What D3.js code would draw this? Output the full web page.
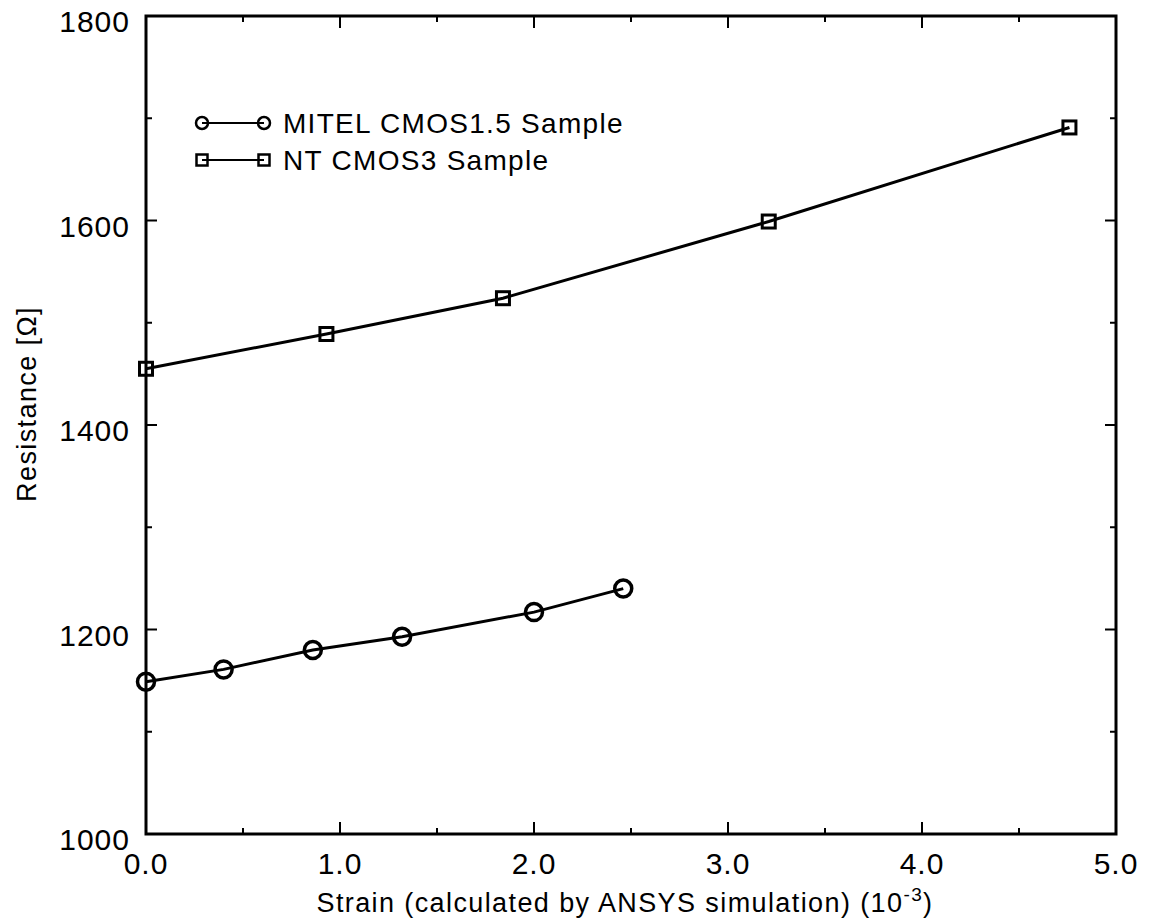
<!DOCTYPE html>
<html>
<head>
<meta charset="utf-8">
<script src="https://cdn.jsdelivr.net/npm/d3@7"></script>
<style>
  body { margin: 0; background: #fff; }
  svg text { font-family: "Liberation Sans", Arial, Helvetica, sans-serif; fill: #000; }
</style>
</head>
<body>
<svg id="chart" width="1149" height="922"></svg>
<script>
// data
const mitelStrain = [0, 0.40, 0.86, 1.32, 2.0, 2.46];
const mitelRes = [1149, 1161, 1180, 1193, 1217, 1240];
const ntStrain = [0, 0.93, 1.84, 3.21, 4.76];
const ntRes = [1455, 1489, 1524, 1599, 1691];

const xTickValues = [0, 1, 2, 3, 4, 5];
const yTickValues = [1000, 1200, 1400, 1600, 1800];
const seriesNames = ["MITEL CMOS1.5 Sample", "NT CMOS3 Sample"];

const svg = d3.select("#chart");
const width = 1149, height = 922;
let margin = { top: 16, left: 146, right: 33, bottom: 88 };
let bodyWidth = width - margin.left - margin.right;
let bodyHeight = height - margin.top - margin.bottom;

let xScale = d3.scaleLinear().domain([0, 5]).range([0, bodyWidth]);
let yScale = d3.scaleLinear().domain([1000, 1800]).range([bodyHeight, 0]);

let body = svg.append("g")
    .attr("transform", `translate(${margin.left},${margin.top})`);

// minor ticks every 0.5 / 100, major every 1.0 / 200, all pointing in
const xMinor = d3.range(0, 5.01, 0.5);
const yMinor = d3.range(1000, 1801, 100);
const isMajorX = v => Math.abs(v - Math.round(v)) < 1e-6;
const isMajorY = v => v % 200 === 0;

body.selectAll(".xtick-b").data(xMinor).enter().append("line")
    .attr("x1", d => xScale(d)).attr("x2", d => xScale(d))
    .attr("y1", bodyHeight).attr("y2", d => bodyHeight - (isMajorX(d) ? 12 : 6))
    .attr("stroke", "#000").attr("stroke-width", 2);
body.selectAll(".xtick-t").data(xMinor).enter().append("line")
    .attr("x1", d => xScale(d)).attr("x2", d => xScale(d))
    .attr("y1", 0).attr("y2", d => isMajorX(d) ? 12 : 6)
    .attr("stroke", "#000").attr("stroke-width", 2);
body.selectAll(".ytick-l").data(yMinor).enter().append("line")
    .attr("y1", d => yScale(d)).attr("y2", d => yScale(d))
    .attr("x1", 0).attr("x2", d => isMajorY(d) ? 11 : 6)
    .attr("stroke", "#000").attr("stroke-width", 2);
body.selectAll(".ytick-r").data(yMinor).enter().append("line")
    .attr("y1", d => yScale(d)).attr("y2", d => yScale(d))
    .attr("x1", bodyWidth).attr("x2", d => bodyWidth - (isMajorY(d) ? 11 : 6))
    .attr("stroke", "#000").attr("stroke-width", 2);

// frame
body.append("rect")
    .attr("width", bodyWidth).attr("height", bodyHeight)
    .attr("fill", "none").attr("stroke", "#000").attr("stroke-width", 3);

// tick labels
let fmt = d3.format(".1f");
body.selectAll(".xlab").data(xTickValues).enter().append("text")
    .attr("x", d => xScale(d)).attr("y", bodyHeight + 40)
    .attr("text-anchor", "middle")
    .style("font-size", "30px").style("letter-spacing", "1px")
    .text(d => fmt(d));
body.selectAll(".ylab").data(yTickValues).enter().append("text")
    .attr("x", -16).attr("y", d => yScale(d) + 16)
    .attr("text-anchor", "end")
    .style("font-size", "30px").style("letter-spacing", "1px")
    .text(d => d);

// axis titles
let xt = svg.append("text")
    .attr("x", 625).attr("y", 912)
    .attr("text-anchor", "middle")
    .style("font-size", "27px").style("letter-spacing", "1.4px");
xt.append("tspan").text("Strain (calculated by ANSYS simulation) (10");
xt.append("tspan").attr("dy", -11).style("font-size", "19px").text("-3");
xt.append("tspan").attr("dy", 11).text(")");

svg.append("text")
    .attr("transform", "translate(36,404) rotate(-90)")
    .attr("text-anchor", "middle")
    .style("font-size", "27px").style("letter-spacing", "1.4px")
    .text("Resistance [Ω]");

// lines
let line = d3.line().x(d => xScale(d[0])).y(d => yScale(d[1]));
const mitel = mitelStrain.map((s, i) => [s, mitelRes[i]]);
const nt = ntStrain.map((s, i) => [s, ntRes[i]]);

body.append("path").datum(mitel).attr("d", line)
    .attr("fill", "none").attr("stroke", "#000").attr("stroke-width", 3);
body.append("path").datum(nt).attr("d", line)
    .attr("fill", "none").attr("stroke", "#000").attr("stroke-width", 3);

// markers
body.selectAll(".circ").data(mitel).enter().append("circle")
    .attr("cx", d => xScale(d[0])).attr("cy", d => yScale(d[1]))
    .attr("r", 8.5).attr("fill", "none").attr("stroke", "#000").attr("stroke-width", 3.5);
const sq = 13;
body.selectAll(".sq").data(nt).enter().append("rect")
    .attr("x", d => xScale(d[0]) - sq / 2).attr("y", d => yScale(d[1]) - sq / 2)
    .attr("width", sq).attr("height", sq)
    .attr("fill", "none").attr("stroke", "#000").attr("stroke-width", 3);

// legend
let legend = svg.append("g");
const legY = [123, 160];
legend.selectAll(".lline").data(legY).enter().append("line")
    .attr("x1", 202).attr("x2", 264)
    .attr("y1", d => d).attr("y2", d => d)
    .attr("stroke", "#000").attr("stroke-width", 2);
[202, 264].forEach(x => {
    legend.append("circle").attr("cx", x).attr("cy", legY[0]).attr("r", 6)
        .attr("fill", "none").attr("stroke", "#000").attr("stroke-width", 2.5);
    legend.append("rect").attr("x", x - 5.5).attr("y", legY[1] - 5.5)
        .attr("width", 11).attr("height", 11)
        .attr("fill", "none").attr("stroke", "#000").attr("stroke-width", 2.5);
});
legend.selectAll(".ltext").data(seriesNames).enter().append("text")
    .attr("x", 283).attr("y", (d, i) => legY[i] + 10)
    .style("font-size", "28px").style("letter-spacing", "1.3px")
    .text(d => d);
</script>
</body>
</html>
